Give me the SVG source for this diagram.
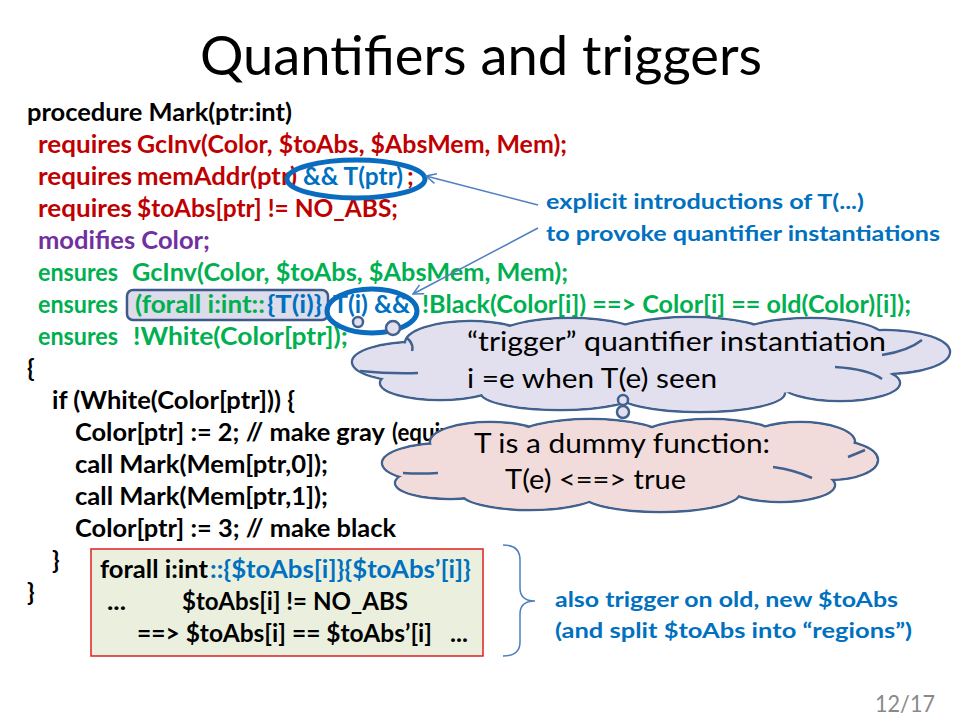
<svg xmlns="http://www.w3.org/2000/svg" width="960" height="720" viewBox="0 0 960 720">
<defs>
<style>
text{font-family:Lato,"Open Sans","Liberation Sans",sans-serif}
.c{font-size:25px;font-weight:bold}
.bx{font-size:24px;font-weight:bold}
.k{fill:#000}
.r{fill:#c00000}
.g{fill:#00b050}
.p{fill:#7030a0}
.b{fill:#0070c0}
.an{font-size:21px;font-weight:bold;fill:#0070c0}
.cl{font-size:27px;fill:#000}
.cs{stroke:#41618f;stroke-width:2.5}
.c1{fill:#e2e0ee}
.c2{fill:#f2dcdb}
.ov{fill:none;stroke:#0a6cbf;stroke-width:5}
.ar{fill:none;stroke:#4f7fbf;stroke-width:1.5}
</style>
<marker id="ah" viewBox="0 0 12 12" refX="11" refY="6" markerWidth="12" markerHeight="12" markerUnits="userSpaceOnUse" orient="auto">
<path d="M1 1 L11 6 L1 11" fill="none" stroke="#4f7fbf" stroke-width="1.5"/>
</marker>
</defs>
<rect width="960" height="720" fill="#fff"/>

<g id="title"><text x="200" y="75" font-size="54" textLength="562" lengthAdjust="spacingAndGlyphs">Quantifiers and triggers</text></g>

<g id="code" class="c">
<text x="27" y="121" class="c k" textLength="265" lengthAdjust="spacingAndGlyphs">procedure Mark(ptr:int)</text>
<text x="38" y="153" class="c r" textLength="94" lengthAdjust="spacingAndGlyphs">requires</text>
<text x="137" y="153" class="c r" textLength="430" lengthAdjust="spacingAndGlyphs">GcInv(Color, $toAbs, $AbsMem, Mem);</text>
<text x="38" y="185" class="c r" textLength="94" lengthAdjust="spacingAndGlyphs">requires</text>
<text x="137" y="185" class="c r" textLength="160" lengthAdjust="spacingAndGlyphs">memAddr(ptr)</text>
<text x="303" y="185" class="c b" textLength="100" lengthAdjust="spacingAndGlyphs">&amp;&amp; T(ptr)</text>
<text x="407" y="185" class="c r">;</text>
<text x="38" y="217" class="c r" textLength="94" lengthAdjust="spacingAndGlyphs">requires</text>
<text x="137" y="217" class="c r" textLength="261" lengthAdjust="spacingAndGlyphs">$toAbs[ptr] != NO_ABS;</text>
<text x="38" y="249" class="c p" textLength="172" lengthAdjust="spacingAndGlyphs">modifies Color;</text>
<text x="38" y="281" class="c g" textLength="80" lengthAdjust="spacingAndGlyphs">ensures</text>
<text x="132" y="281" class="c g" textLength="436" lengthAdjust="spacingAndGlyphs">GcInv(Color, $toAbs, $AbsMem, Mem);</text>
<rect x="127" y="290" width="201" height="30" rx="6" fill="#dcdcea" stroke="#3d5a8a" stroke-width="2.5"/>
<text x="38" y="313" class="c g" textLength="80" lengthAdjust="spacingAndGlyphs">ensures</text>
<text x="135" y="313" class="c g" textLength="130" lengthAdjust="spacingAndGlyphs">(forall i:int::</text>
<text x="267" y="313" class="c b" textLength="55" lengthAdjust="spacingAndGlyphs">{T(i)}</text>
<text x="333" y="313" class="c b" textLength="77" lengthAdjust="spacingAndGlyphs">T(i) &amp;&amp;</text>
<text x="422" y="313" class="c g" textLength="489" lengthAdjust="spacingAndGlyphs">!Black(Color[i]) ==&gt; Color[i] == old(Color)[i]);</text>
<text x="38" y="345" class="c g" textLength="80" lengthAdjust="spacingAndGlyphs">ensures</text>
<text x="133" y="345" class="c g" textLength="215" lengthAdjust="spacingAndGlyphs">!White(Color[ptr]);</text>
<text x="27" y="377" class="c k">{</text>
<text x="52" y="409" class="c k" textLength="243" lengthAdjust="spacingAndGlyphs">if (White(Color[ptr])) {</text>
<text x="75" y="441" class="c k" textLength="310" lengthAdjust="spacingAndGlyphs">Color[ptr] := 2; // make gray</text>
<text x="392" y="441" class="c k" textLength="60" lengthAdjust="spacingAndGlyphs">(equiv</text>
<text x="75" y="473" class="c k" textLength="253" lengthAdjust="spacingAndGlyphs">call Mark(Mem[ptr,0]);</text>
<text x="75" y="505" class="c k" textLength="253" lengthAdjust="spacingAndGlyphs">call Mark(Mem[ptr,1]);</text>
<text x="75" y="537" class="c k" textLength="321" lengthAdjust="spacingAndGlyphs">Color[ptr] := 3; // make black</text>
<text x="52" y="569" class="c k">}</text>
<text x="27" y="601" class="c k">}</text>
</g>

<g id="highlights">
<ellipse cx="356" cy="179" rx="69" ry="19" class="ov"/>
<ellipse cx="372" cy="311" rx="45" ry="22" class="ov"/>
</g>

<g id="cloud1">
<g class="cs c1">
<ellipse cx="415" cy="362" rx="63" ry="20"/>
<ellipse cx="470" cy="343" rx="65" ry="22"/>
<ellipse cx="570" cy="338" rx="75" ry="20"/>
<ellipse cx="690" cy="336" rx="80" ry="19"/>
<ellipse cx="810" cy="338" rx="75" ry="20"/>
<ellipse cx="885" cy="352" rx="65" ry="22"/>
<ellipse cx="840" cy="383" rx="60" ry="18"/>
<ellipse cx="700" cy="393" rx="85" ry="19"/>
<ellipse cx="560" cy="392" rx="80" ry="18"/>
<ellipse cx="440" cy="383" rx="60" ry="17"/>
</g>
<g class="c1">
<ellipse cx="415" cy="362" rx="61.7" ry="18.7"/>
<ellipse cx="470" cy="343" rx="63.7" ry="20.7"/>
<ellipse cx="570" cy="338" rx="73.7" ry="18.7"/>
<ellipse cx="690" cy="336" rx="78.7" ry="17.7"/>
<ellipse cx="810" cy="338" rx="73.7" ry="18.7"/>
<ellipse cx="885" cy="352" rx="63.7" ry="20.7"/>
<ellipse cx="840" cy="383" rx="58.7" ry="16.7"/>
<ellipse cx="700" cy="393" rx="83.7" ry="17.7"/>
<ellipse cx="560" cy="392" rx="78.7" ry="16.7"/>
<ellipse cx="440" cy="383" rx="58.7" ry="15.7"/>
<ellipse cx="650" cy="364" rx="250" ry="34"/>
</g>
<path d="M360 371 Q390 374 418 373 M407 338 Q414 344 412 351 M835 367 Q868 369 882 379 M922 340 Q908 351 882 355" fill="none" class="cs"/>
<text x="467" y="351" class="cl" textLength="419" lengthAdjust="spacingAndGlyphs">“trigger”  quantifier instantiation</text>
<text x="467" y="388" class="cl" textLength="250" lengthAdjust="spacingAndGlyphs">i =e when T(e) seen</text>
</g>

<g id="cloud1-tail">
<circle cx="358" cy="322" r="5" class="cs c1"/>
<circle cx="393" cy="328" r="7" class="cs c1"/>
</g>

<g id="cloud2">
<g class="cs c2">
<ellipse cx="445" cy="463" rx="63" ry="20"/>
<ellipse cx="490" cy="442" rx="60" ry="20"/>
<ellipse cx="590" cy="438" rx="75" ry="19"/>
<ellipse cx="710" cy="438" rx="70" ry="19"/>
<ellipse cx="800" cy="442" rx="55" ry="20"/>
<ellipse cx="830" cy="460" rx="48" ry="20"/>
<ellipse cx="780" cy="485" rx="55" ry="17"/>
<ellipse cx="660" cy="493" rx="80" ry="19"/>
<ellipse cx="530" cy="492" rx="70" ry="18"/>
<ellipse cx="450" cy="483" rx="55" ry="16"/>
</g>
<g class="c2">
<ellipse cx="445" cy="463" rx="61.7" ry="18.7"/>
<ellipse cx="490" cy="442" rx="58.7" ry="18.7"/>
<ellipse cx="590" cy="438" rx="73.7" ry="17.7"/>
<ellipse cx="710" cy="438" rx="68.7" ry="17.7"/>
<ellipse cx="800" cy="442" rx="53.7" ry="18.7"/>
<ellipse cx="830" cy="460" rx="46.7" ry="18.7"/>
<ellipse cx="780" cy="485" rx="53.7" ry="15.7"/>
<ellipse cx="660" cy="493" rx="78.7" ry="17.7"/>
<ellipse cx="530" cy="492" rx="68.7" ry="16.7"/>
<ellipse cx="450" cy="483" rx="53.7" ry="14.7"/>
<ellipse cx="630" cy="465" rx="220" ry="34"/>
</g>
<path d="M403 473 Q420 474 438 473 M773 467 Q795 470 812 478 M848 457 Q858 453 865 450" fill="none" class="cs"/>
<text x="474" y="453" class="cl" textLength="296" lengthAdjust="spacingAndGlyphs">T is a dummy function:</text>
<text x="505" y="489" class="cl" textLength="181" lengthAdjust="spacingAndGlyphs">T(e) &lt;==&gt; true</text>
</g>

<g id="cloud2-tail">
<circle cx="623" cy="400" r="5" class="cs c1"/>
<circle cx="623" cy="412" r="6" class="cs c1"/>
</g>

<g id="box">
<rect x="91" y="549" width="392" height="107" fill="#ebf0de" stroke="#e02020" stroke-width="1.5"/>
<text x="100" y="578" class="bx k" textLength="108" lengthAdjust="spacingAndGlyphs">forall i:int</text>
<text x="210" y="578" class="bx b" textLength="261" lengthAdjust="spacingAndGlyphs">::{$toAbs[i]}{$toAbs’[i]}</text>
<text x="107" y="610" class="bx k" textLength="19" lengthAdjust="spacingAndGlyphs">...</text>
<text x="182" y="610" class="bx k" textLength="226" lengthAdjust="spacingAndGlyphs">$toAbs[i] != NO_ABS</text>
<text x="137" y="642" class="bx k" textLength="295" lengthAdjust="spacingAndGlyphs">==&gt; $toAbs[i] == $toAbs’[i]</text>
<text x="450" y="642" class="bx k" textLength="18" lengthAdjust="spacingAndGlyphs">...</text>
</g>

<g id="note-explicit">
<text x="546" y="209" class="an" textLength="318" lengthAdjust="spacingAndGlyphs">explicit introductions of T(...)</text>
<text x="546" y="241" class="an" textLength="394" lengthAdjust="spacingAndGlyphs">to provoke quantifier instantiations</text>
</g>

<g id="note-also">
<text x="555" y="607" class="an" textLength="343" lengthAdjust="spacingAndGlyphs">also trigger on old, new $toAbs</text>
<text x="555" y="638" class="an" textLength="357" lengthAdjust="spacingAndGlyphs">(and split $toAbs into “regions”)</text>
</g>

<g id="connectors">
<line x1="538" y1="205" x2="426" y2="176" class="ar" marker-end="url(#ah)"/>
<line x1="538" y1="228" x2="413" y2="294" class="ar" marker-end="url(#ah)"/>
<path d="M503 545 Q520 545 520 560 L520 588 Q520 601 535 601 Q520 601 520 614 L520 642 Q520 656 503 656" class="ar"/>
</g>

<g id="page"><text x="875" y="712" font-size="24" fill="#898989" textLength="60" lengthAdjust="spacingAndGlyphs">12/17</text></g>
</svg>
